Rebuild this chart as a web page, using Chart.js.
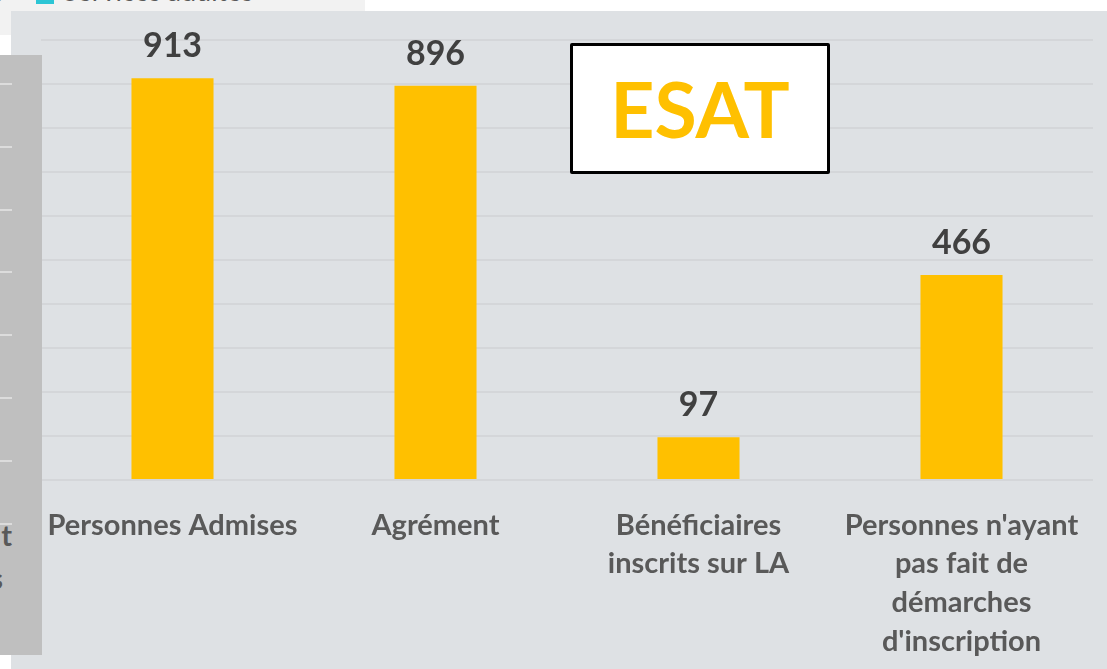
<!DOCTYPE html>
<html lang="fr">
<head>
<meta charset="UTF-8">
<title>ESAT</title>
<script src="https://cdn.jsdelivr.net/npm/chart.js@4"></script>
<style>
  body { margin: 0; width: 1107px; height: 669px; position: relative; overflow: hidden; background: #fff; font-family: Lato, sans-serif; }
  #haut { position: absolute; left: 0; top: 0; width: 365px; height: 35px; background: #f2f2f2; overflow: hidden; }
  #haut span { position: absolute; top: -26px; font-size: 27px; color: #595959; white-space: nowrap; }
  #haut .carre { top: -15px; width: 18px; height: 19px; background: #2cc5d5; }
  #cadre { position: absolute; left: 11px; top: 11px; width: 1096px; height: 658px; background: #dee1e4; }
  #gauche { position: absolute; left: 0; top: 55px; width: 42px; height: 600px; background: #bfbfbf; overflow: hidden; }
  #gauche .trait { position: absolute; left: 0; width: 12px; height: 2px; background: #dcdcdc; }
  #gauche .txt { position: absolute; font-weight: bold; font-size: 29px; color: #595959; white-space: nowrap; }
  #esat { position: absolute; left: 570px; top: 43px; width: 254px; height: 125px; border: 3px solid #000; border-radius: 2px; background: #fff;
          color: #ffc000; font-weight: bold; font-size: 77px; text-align: center; line-height: 125px; }
</style>
</head>
<body>

<div id="haut">
  <span style="left:-8px">s</span>
  <span class="carre" style="left:36px"></span>
  <span style="left:63px">Services adultes</span>
</div>

<div id="cadre"><canvas id="graphe" width="1096" height="658"></canvas></div>

<div id="gauche">
  <span class="txt" style="right:30px; top:462px">t</span>
  <span class="txt" style="right:39px; top:505px">s</span>
</div>

<div id="esat">ESAT</div>

<script>
  const categories = [
    'Personnes Admises',
    'Agrément',
    ['Bénéficiaires', 'inscrits sur LA'],
    ["Personnes n'ayant", 'pas fait de', 'démarches', "d'inscription"]
  ];
  const valeurs = [913, 896, 97, 466];

  // petits traits du graphique voisin (à gauche)
  const gauche = document.getElementById('gauche');
  for (let i = 0; i < 8; i++) {
    const t = document.createElement('div');
    t.className = 'trait';
    t.style.top = (28 + i * 62.8) + 'px';
    gauche.appendChild(t);
  }

  // étiquettes de valeur au-dessus des barres
  const etiquettes = {
    id: 'etiquettes',
    afterDatasetsDraw(chart) {
      const ctx = chart.ctx;
      const meta = chart.getDatasetMeta(0);
      ctx.save();
      ctx.font = 'bold 34px Lato';
      ctx.fillStyle = '#404040';
      ctx.textAlign = 'center';
      ctx.textBaseline = 'alphabetic';
      meta.data.forEach((barre, i) => {
        ctx.fillText(valeurs[i], barre.x, barre.y - 21);
      });
      ctx.restore();
    }
  };

  new Chart(document.getElementById('graphe'), {
    type: 'bar',
    data: {
      labels: categories,
      datasets: [{
        data: valeurs,
        backgroundColor: '#ffc000',
        barPercentage: 0.312,
        categoryPercentage: 1
      }]
    },
    options: {
      responsive: false,
      animation: false,
      layout: { padding: { left: 30, right: 14, top: 29, bottom: 0 } },
      plugins: { legend: { display: false }, tooltip: { enabled: false } },
      scales: {
        x: {
          grid: { display: false },
          border: { display: false },
          ticks: {
            color: '#595959',
            font: { family: 'Lato', size: 29, weight: 'bold', lineHeight: 1.334 },
            padding: 18,
            maxRotation: 0,
            autoSkip: false
          },
          afterFit(axis) { axis.height = 189; }
        },
        y: {
          min: 0,
          max: 1000,
          ticks: { display: false, stepSize: 100 },
          grid: { color: '#d4d6d9', lineWidth: 2, drawTicks: false },
          border: { display: false },
          afterFit(axis) { axis.width = 0; }
        }
      }
    },
    plugins: [etiquettes]
  });
</script>
</body>
</html>
